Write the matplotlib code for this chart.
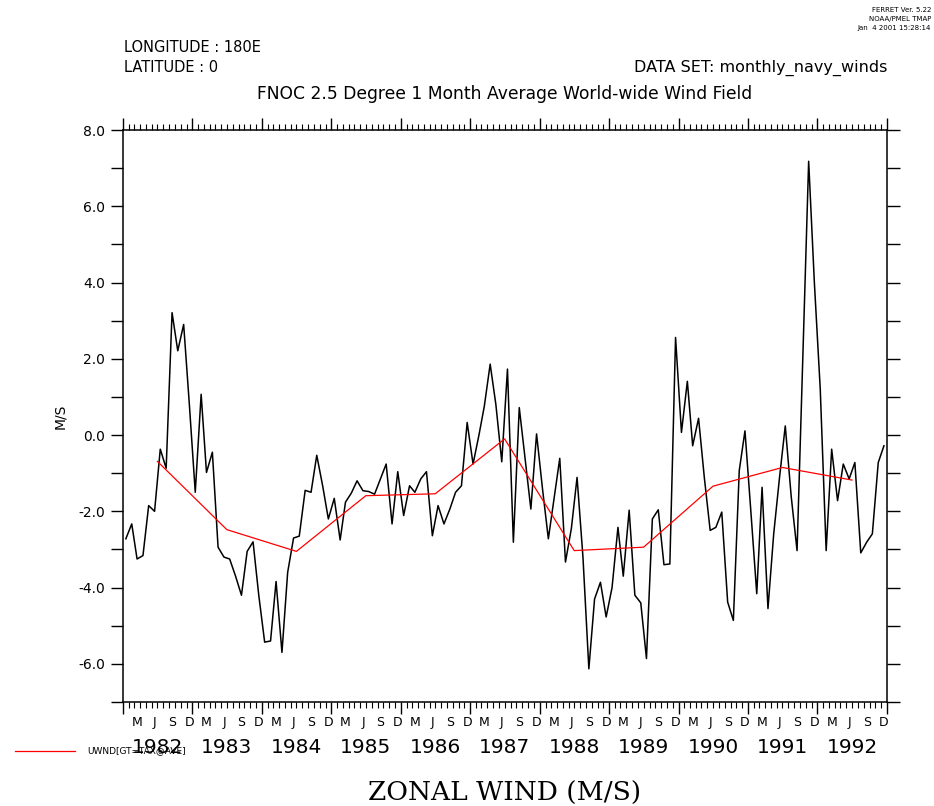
import matplotlib
matplotlib.use("Agg")
from matplotlib import pyplot as plt
import matplotlib.dates as mdates
import matplotlib.transforms as mtransforms
import pandas as pd
import numpy as np

plt.rcParams['axes.unicode_minus'] = False

# monthly zonal wind (m/s), 180E / 0N, Jan 1982 .. Dec 1992
u1982 = [-2.72, -2.33, -3.25, -3.16, -1.85, -2.0, -0.37, -0.87, 3.21, 2.21, 2.9, 0.8]
u1983 = [-1.5, 1.07, -0.98, -0.45, -2.94, -3.2, -3.25, -3.7, -4.2, -3.05, -2.8, -4.2]
u1984 = [-5.43, -5.4, -3.84, -5.7, -3.6, -2.7, -2.65, -1.45, -1.5, -0.53, -1.33, -2.2]
u1985 = [-1.66, -2.75, -1.76, -1.52, -1.2, -1.46, -1.48, -1.55, -1.15, -0.76, -2.33, -0.96]
u1986 = [-2.11, -1.33, -1.5, -1.15, -0.96, -2.64, -1.85, -2.33, -1.94, -1.5, -1.33, 0.33]
u1987 = [-0.76, 0.0, 0.75, 1.86, 0.8, -0.7, 1.73, -2.81, 0.72, -0.6, -1.94, 0.03]
u1988 = [-1.4, -2.72, -1.7, -0.61, -3.33, -2.45, -1.11, -3.2, -6.13, -4.3, -3.86, -4.77]
u1989 = [-4.0, -2.42, -3.7, -1.97, -4.2, -4.4, -5.86, -2.2, -1.96, -3.4, -3.38, 2.56]
u1990 = [0.07, 1.41, -0.28, 0.44, -1.1, -2.5, -2.42, -2.02, -4.38, -4.86, -0.93, 0.11]
u1991 = [-2.0, -4.16, -1.37, -4.55, -2.6, -1.1, 0.24, -1.6, -3.03, 2.0, 7.18, 4.0]
u1992 = [1.2, -3.03, -0.37, -1.72, -0.76, -1.15, -0.72, -3.09, -2.81, -2.59, -0.72, -0.28]

years = list(range(1982, 1993))
# yearly average (red line), plotted at mid-year
uwnd_ave = [-0.69, -2.48, -3.05, -1.59, -1.54, -0.10, -3.03, -2.94, -1.34, -0.85, -1.18]

month_letters = {3: "M", 6: "J", 9: "S", 12: "D"}

uwnd = np.concatenate([u1982, u1983, u1984, u1985, u1986, u1987,
                       u1988, u1989, u1990, u1991, u1992])
months = pd.date_range("1982-01-01", periods=len(uwnd), freq="MS")
t_mid = months + pd.Timedelta(days=15)
t_year = [pd.Timestamp(y, 7, 1) for y in years]

fig = plt.figure(figsize=(9.34, 8.06), dpi=100)
ax = fig.add_axes([123 / 934, 104 / 806, 764 / 934, 572 / 806])

ax.plot(t_mid, uwnd, color="black", lw=1.1)
ax.plot(t_year, uwnd_ave, color="red", lw=0.9)

ax.set_xlim(pd.Timestamp(1982, 1, 1), pd.Timestamp(1993, 1, 1))
ax.set_ylim(-7, 8)

for sp in ax.spines.values():
    sp.set_linewidth(1.1)

# time axis ticks: years long, months short, on top and bottom
ax.xaxis.set_major_locator(mdates.YearLocator())
ax.xaxis.set_minor_locator(mdates.MonthLocator())
ax.tick_params(axis="x", which="major", direction="out", length=8.6, width=1.0,
               top=True, bottom=True, labelbottom=False)
ax.tick_params(axis="x", which="minor", direction="out", length=4.3, width=0.8,
               top=True, bottom=True)

ax.set_yticks(np.arange(-6, 9, 2))
ax.set_yticks(np.arange(-7, 9, 1), minor=True)
ax.set_yticklabels(["%.1f" % v for v in np.arange(-6, 9, 2)])
ax.tick_params(axis="y", which="both", direction="out", length=9, width=1.0,
               left=True, right=True, labelsize=10, pad=4)

lab_font = ['Liberation Sans Narrow', 'DejaVu Sans']
for t in ax.get_yticklabels():
    t.set_family(lab_font)

trans = mtransforms.blended_transform_factory(ax.transData, ax.transAxes)
for m in months:
    if m.month in month_letters:
        ax.text(m + pd.Timedelta(days=15), -0.035, month_letters[m.month],
                transform=trans, ha="center", va="center", fontsize=9, family=lab_font)
for y, t in zip(years, t_year):
    ax.text(t, -0.079, str(y), transform=trans, ha="center", va="center",
            fontsize=14.5, family=lab_font)

ax.set_ylabel("M/S", fontsize=10, family=lab_font, labelpad=8)

fig.text(124 / 934, 1 - 47 / 806, "LONGITUDE : 180E", fontsize=10.5, family=lab_font,
         va="center", ha="left")
fig.text(124 / 934, 1 - 68 / 806, "LATITUDE : 0", fontsize=10.5, family=lab_font,
         va="center", ha="left")
fig.text(887 / 934, 1 - 68 / 806, "DATA SET: monthly_navy_winds", fontsize=11.5,
         family=lab_font, va="center", ha="right")
fig.text(505 / 934, 1 - 94 / 806, "FNOC 2.5 Degree 1 Month Average World-wide Wind Field",
         fontsize=12.3, family=lab_font, va="center", ha="center")

fig.text(931 / 934, 1 - 10 / 806, "FERRET Ver. 5.22", fontsize=5, ha="right", va="center")
fig.text(931 / 934, 1 - 19 / 806, "NOAA/PMEL TMAP", fontsize=5, ha="right", va="center")
fig.text(931 / 934, 1 - 28 / 806, "Jan  4 2001 15:28:14", fontsize=5, ha="right", va="center")

fig.text(505 / 934, 1 - 793 / 806, "ZONAL WIND (M/S)", fontsize=19,
         family=["DejaVu Serif"], va="center", ha="center")

# legend entry at lower left (overlaps the first year label, as in the original)
fig.add_artist(plt.Line2D([15 / 934, 75 / 934], [1 - 751 / 806, 1 - 751 / 806],
                          color="red", lw=0.9))
fig.text(87 / 934, 1 - 751 / 806, "UWND[GT=TAX@AVE]", fontsize=6.5, va="center",
         ha="left", family=lab_font)

fig.savefig("out.png", dpi=100)
